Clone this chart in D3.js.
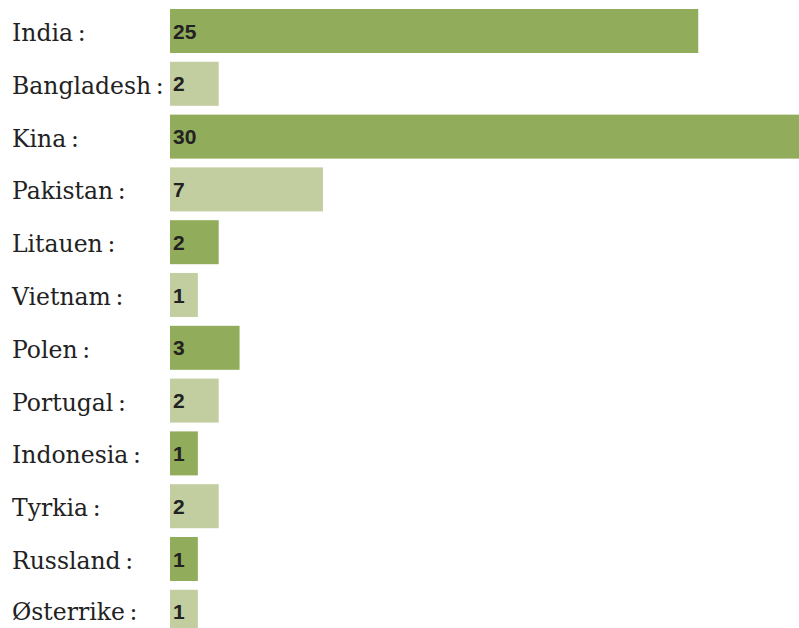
<!DOCTYPE html>
<html><head><meta charset="utf-8">
<script src="https://cdn.jsdelivr.net/npm/d3@7"></script>
<style>html,body{margin:0;padding:0;background:#fff;overflow:hidden}</style>
</head><body>
<svg id="c" width="799" height="628"></svg>
<script>
const categories = ["India","Bangladesh","Kina","Pakistan","Litauen","Vietnam","Polen","Portugal","Indonesia","Tyrkia","Russland","Østerrike"];
const values = [25,2,30,7,2,1,3,2,1,2,1,1];

const svg = d3.select("#c");
const x = d3.scaleLinear().domain([0,30]).range([177, 802.5]);
const step = 52.8, bh = 44;
const y = d3.scaleBand().domain(categories).range([9, 9 + step*11 + bh]).paddingInner((step-bh)/step).paddingOuter(0).align(0);
const colors = ["#91ac5a","#c2cea0"];

const g = svg.selectAll("g.row").data(categories).join("g").attr("class","row");
g.append("rect")
  .attr("x", 170)
  .attr("y", d => y(d))
  .attr("width", (d,i) => x(values[i]) - 170)
  .attr("height", y.bandwidth())
  .attr("fill", (d,i) => colors[i%2]);
g.append("text")
  .attr("x", 12)
  .attr("y", (d,i) => y(d) + (i === categories.length-1 ? 30 : 32))
  .attr("font-family", "DejaVu Serif")
  .attr("font-size", 23.5)
  .attr("fill", "#222")
  .text(d => d + "\u2009:");
g.append("text")
  .attr("x", 173)
  .attr("y", d => y(d) + 29.5)
  .attr("font-family", "Liberation Sans, Arial, sans-serif")
  .attr("font-weight", "bold")
  .attr("font-size", 21)
  .attr("fill", "#222")
  .text((d,i) => values[i]);
</script>
</body></html>
